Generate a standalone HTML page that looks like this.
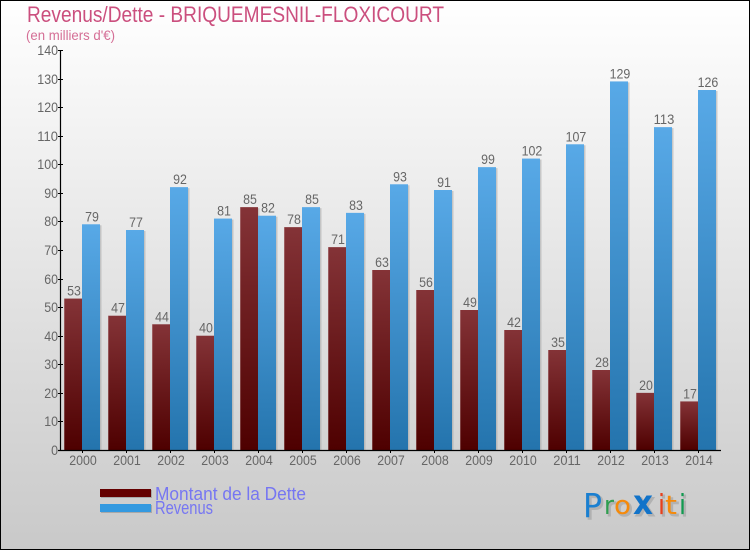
<!DOCTYPE html>
<html lang="fr">
<head>
<meta charset="utf-8">
<title>Revenus/Dette - BRIQUEMESNIL-FLOXICOURT</title>
<style>
html,body{margin:0;padding:0;background:#fff;}
svg{display:block;font-family:"Liberation Sans",sans-serif;}
</style>
</head>
<body>
<svg id="chart" width="750" height="550" viewBox="0 0 750 550" xmlns="http://www.w3.org/2000/svg">
<defs>
<linearGradient id="bg" x1="0" y1="0" x2="0" y2="1"><stop offset="0" stop-color="#ffffff"/><stop offset="1" stop-color="#c9c9c9"/></linearGradient>
<linearGradient id="redGrad" x1="0" y1="0" x2="0" y2="1"><stop offset="0" stop-color="#843337"/><stop offset="1" stop-color="#4e0000"/></linearGradient>
<linearGradient id="blueGrad" x1="0" y1="0" x2="0" y2="1"><stop offset="0" stop-color="#58a9e7"/><stop offset="1" stop-color="#2474ad"/></linearGradient>
</defs>
<rect x="0.5" y="0.5" width="749" height="549" fill="url(#bg)" stroke="#000" stroke-width="1"/>
<text x="27" y="22" font-size="22" fill="#cb4f7e" textLength="417" lengthAdjust="spacingAndGlyphs">Revenus/Dette - BRIQUEMESNIL-FLOXICOURT</text>
<text x="26" y="40" font-size="14" fill="#d56f96" textLength="89" lengthAdjust="spacingAndGlyphs">(en milliers d'€)</text>
<g id="bars"></g>
<g id="axes"></g>
<g id="legend">
<rect x="101" y="490" width="51" height="8" fill="#a8a8a8"/>
<rect x="100" y="489" width="51" height="8" fill="#640000"/>
<text x="155" y="500" font-size="18" fill="#7676f2" textLength="151" lengthAdjust="spacingAndGlyphs">Montant de la Dette</text>
<rect x="101" y="505" width="51" height="8" fill="#a8a8a8"/>
<rect x="100" y="504" width="51" height="8" fill="#3399e0"/>
<text x="155" y="514" font-size="18" fill="#7676f2" textLength="58" lengthAdjust="spacingAndGlyphs">Revenus</text>
</g>
<g id="logo" font-family="'DejaVu Sans','Liberation Sans',sans-serif">
<g fill="#a0a0a0" stroke="#a0a0a0" opacity="0.6" transform="translate(2,2)">
<text x="583" y="517" font-size="33" textLength="19" lengthAdjust="spacingAndGlyphs">P</text>
<text x="604" y="514" font-size="26" textLength="10" lengthAdjust="spacingAndGlyphs">r</text>
<text x="614" y="514" font-size="26" textLength="17" lengthAdjust="spacingAndGlyphs">o</text>
<text x="633" y="514" font-size="34" font-weight="bold" textLength="20" lengthAdjust="spacingAndGlyphs">x</text>
<text x="658" y="514" font-size="28" textLength="7" lengthAdjust="spacingAndGlyphs">i</text>
<text x="665" y="514" font-size="26" textLength="12" lengthAdjust="spacingAndGlyphs">t</text>
<text x="679" y="514" font-size="28" textLength="7" lengthAdjust="spacingAndGlyphs">i</text>
</g>
<text x="583" y="517" font-size="33" textLength="19" lengthAdjust="spacingAndGlyphs" fill="#1a7fd0">P</text>
<text x="604" y="514" font-size="26" textLength="10" lengthAdjust="spacingAndGlyphs" fill="#2f9e4f">r</text>
<text x="614" y="514" font-size="26" textLength="17" lengthAdjust="spacingAndGlyphs" fill="#f58a0b">o</text>
<text x="633" y="514" font-size="34" font-weight="bold" textLength="20" lengthAdjust="spacingAndGlyphs" fill="#1173c9">x</text>
<text x="658" y="514" font-size="28" textLength="7" lengthAdjust="spacingAndGlyphs" fill="#e8401c">i</text>
<text x="665" y="514" font-size="26" textLength="12" lengthAdjust="spacingAndGlyphs" fill="#f58a0b">t</text>
<text x="679" y="514" font-size="28" textLength="7" lengthAdjust="spacingAndGlyphs" fill="#119a50">i</text>
</g>
</svg>
<script>
const years = ['2000','2001','2002','2003','2004','2005','2006','2007','2008','2009','2010','2011','2012','2013','2014'];
const debtValues = [53,47,44,40,85,78,71,63,56,49,42,35,28,20,17];
const revenueValues = [79,77,92,81,82,85,83,93,91,99,102,107,129,113,126];
const yTicks = [0,10,20,30,40,50,60,70,80,90,100,110,120,130,140];

const NS = 'http://www.w3.org/2000/svg';
const barsLayer = document.getElementById('bars');
const axesLayer = document.getElementById('axes');
const yScale = function (v) { return 450 - v * (400 / 140); };
const xGroup = function (i) { return 64 + i * 44; };
const BAR_W = 18;
const LABEL_FILL = '#666';

function make(parent, tag, attrs, text) {
  const el = document.createElementNS(NS, tag);
  for (const k in attrs) el.setAttribute(k, attrs[k]);
  if (text !== undefined) el.textContent = text;
  parent.appendChild(el);
  return el;
}

function drawBar(x, value, fill, nameStem, edge) {
  const top = yScale(value);
  const shadow = make(barsLayer, 'rect', {x: x + 1.5, y: top + 1, width: BAR_W, height: 450 - top - 1, fill: '#a0a0a0', opacity: 0.5});
  
  
  const bar = make(barsLayer, 'rect', {x: x, y: top, width: BAR_W, height: 450 - top, fill: fill});
  
  
  if (edge) {
    const hl = make(barsLayer, 'rect', {x: x, y: top, width: 1, height: 450 - top, fill: '#ffffff', opacity: 0.22});
    
    
  }
}

function drawLabel(parent, x, y, str, anchor, nameStr) {
  const el = make(parent, 'text', {x: x, y: y, 'font-size': 13.5, 'text-anchor': anchor, fill: LABEL_FILL, textLength: str.length * 6.9, lengthAdjust: 'spacingAndGlyphs'}, str);
  
  
}

years.forEach(function (year, i) {
  const x0 = xGroup(i);
  drawBar(x0, debtValues[i], 'url(#redGrad)', 'bar-debt-' + year, true);
  drawBar(x0 + BAR_W, revenueValues[i], 'url(#blueGrad)', 'bar-revenue-' + year, false);
});

years.forEach(function (year, i) {
  const x0 = xGroup(i);
  drawLabel(barsLayer, x0 + BAR_W / 2 + 1, yScale(debtValues[i]) - 3, String(debtValues[i]), 'middle', 'value-debt-' + year);
  drawLabel(barsLayer, x0 + BAR_W * 1.5 + 1, yScale(revenueValues[i]) - 3, String(revenueValues[i]), 'middle', 'value-revenue-' + year);
});

const yLine = make(axesLayer, 'line', {x1: 60.5, y1: 50, x2: 60.5, y2: 450.5, stroke: '#000', 'stroke-width': 1.2});


const xLine = make(axesLayer, 'line', {x1: 58, y1: 450.5, x2: 721, y2: 450.5, stroke: '#000', 'stroke-width': 1.2});



yTicks.forEach(function (t) {
  const y = Math.round(yScale(t)) + 0.5;
  const tick = make(axesLayer, 'line', {x1: 58, y1: y, x2: 63, y2: y, stroke: '#000', 'stroke-width': 1});
  
  
  drawLabel(axesLayer, 58, y + 4.5, String(t), 'end', 'y-tick-label-' + t);
});

years.forEach(function (year, i) {
  const cx = xGroup(i) + BAR_W;
  const tick = make(axesLayer, 'line', {x1: cx + 0.5, y1: 450, x2: cx + 0.5, y2: 453, stroke: '#000', 'stroke-width': 1});
  
  
  drawLabel(axesLayer, cx + 1, 465, year, 'middle', 'x-tick-label-' + year);
});
</script>
</body>
</html>
